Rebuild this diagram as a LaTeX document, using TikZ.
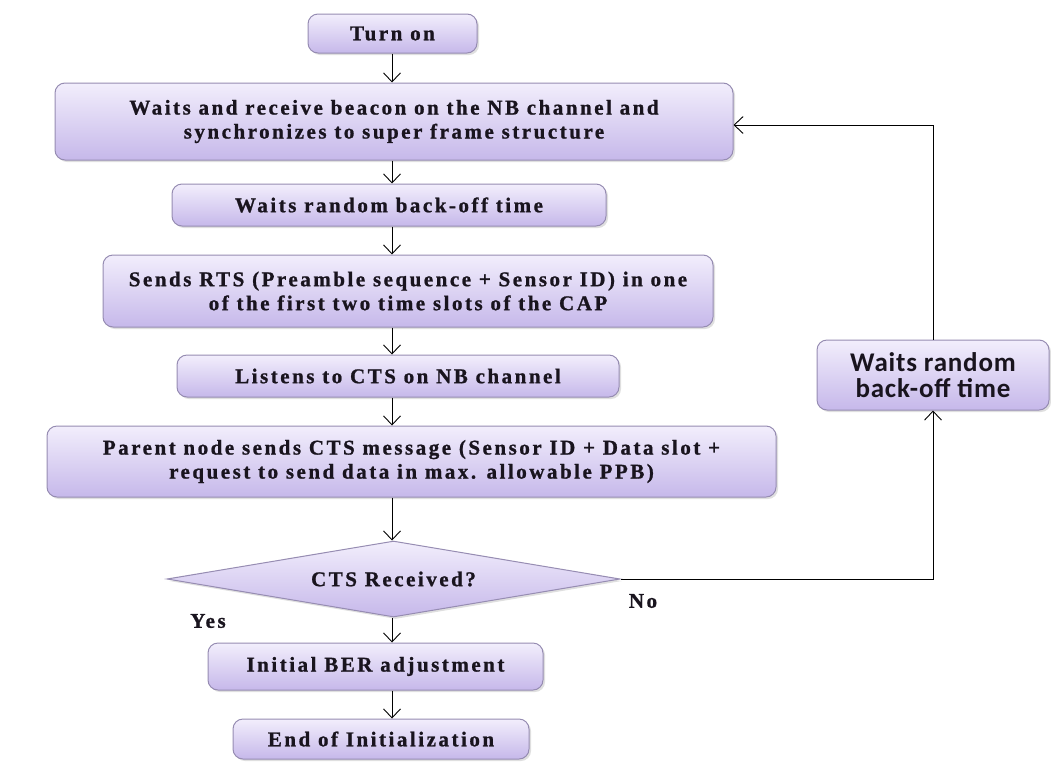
\documentclass[tikz,border=0pt]{standalone}
\usepackage{fontspec}
\setmainfont{Liberation Serif}
\newfontfamily\boxfont[LetterSpace=12,BoldFeatures={FakeBold=1}]{Liberation Serif}
\newfontfamily\rbfont[LetterSpace=3]{Carlito}
\usetikzlibrary{shapes.geometric,arrows.meta,shadows}
\definecolor{boxtop}{RGB}{242,238,252}
\definecolor{boxbot}{RGB}{198,184,234}
\definecolor{boxline}{RGB}{150,140,178}
\definecolor{txt}{RGB}{25,20,30}
\begin{document}
\begin{tikzpicture}[x=1pt,y=1pt,
  flowbox/.style={rectangle, rounded corners=10pt, draw=boxline, line width=1pt,
    top color=boxtop, bottom color=boxbot, align=center, inner sep=2pt, text=txt,
    font=\fontsize{21}{24}\boxfont\bfseries,
    drop shadow={shadow xshift=2pt, shadow yshift=-2pt, opacity=0.25, fill=gray}},
  decision/.style={diamond, aspect=6, draw=boxline, line width=1pt,
    top color=boxtop, bottom color=boxbot, inner sep=0pt, align=center, text=txt,
    font=\fontsize{21}{24}\boxfont\bfseries,
    drop shadow={shadow xshift=2pt, shadow yshift=-2pt, opacity=0.25, fill=gray}},
  conn/.style={-{Straight Barb[length=9pt,width=17pt]}, line width=0.9pt, black},
  lbl/.style={font=\fontsize{21}{24}\boxfont\bfseries, inner sep=0pt, text=txt}]
\useasboundingbox (0,0) rectangle (1051,-761);
\node[flowbox, minimum width=169, minimum height=39] (turnon) at (392.5,-33.5) {Turn on};
\node[flowbox, minimum width=678, minimum height=77] (b2) at (394,-121.5)
  {Waits and receive beacon on the NB channel and\\synchronizes to super frame structure};
\node[flowbox, minimum width=434, minimum height=42] (b3) at (389,-205) {Waits random back-off time};
\node[flowbox, minimum width=610, minimum height=72] (b4) at (408,-291)
  {Sends RTS (Preamble sequence + Sensor ID) in one\\of the first two time slots of the CAP};
\node[flowbox, minimum width=442, minimum height=42] (b5) at (398,-376) {Listens to CTS on NB channel};
\node[flowbox, minimum width=729, minimum height=71] (b6) at (411.5,-461.5)
  {Parent node sends CTS message (Sensor ID + Data slot +\\request to send data in max. allowable PPB)};
\node[decision, minimum width=453, minimum height=76] (dia) at (393.5,-579) {CTS Received?};
\node[flowbox, minimum width=335, minimum height=47] (b7) at (375.5,-666.5) {Initial BER adjustment};
\node[flowbox, minimum width=296, minimum height=40] (b8) at (381,-739) {End of Initialization};
\node[flowbox, minimum width=232, minimum height=70, font=\fontsize{27}{26}\rbfont\bfseries] (rb) at (933,-375)
  {Waits random\\back-off time};
\node[lbl] (yes) at (208,-621) {Yes};
\node[lbl] (no) at (643,-601) {No};
\coordinate (col) at (392,0);
\draw[conn] (turnon.south -| col) -- (b2.north -| col);
\draw[conn] (b2.south -| col) -- (b3.north -| col);
\draw[conn] (b3.south -| col) -- (b4.north -| col);
\draw[conn] (b4.south -| col) -- (b5.north -| col);
\draw[conn] (b5.south -| col) -- (b6.north -| col);
\draw[conn] (b6.south -| col) -- (dia.north -| col);
\draw[conn] (dia.south -| col) -- (b7.north -| col);
\draw[conn] (b7.south -| col) -- (b8.north -| col);
\draw[conn] (dia.east) -| (rb.south);
\draw[conn] (rb.north) |- ([yshift=-3.5pt]b2.east);
\end{tikzpicture}
\end{document}
